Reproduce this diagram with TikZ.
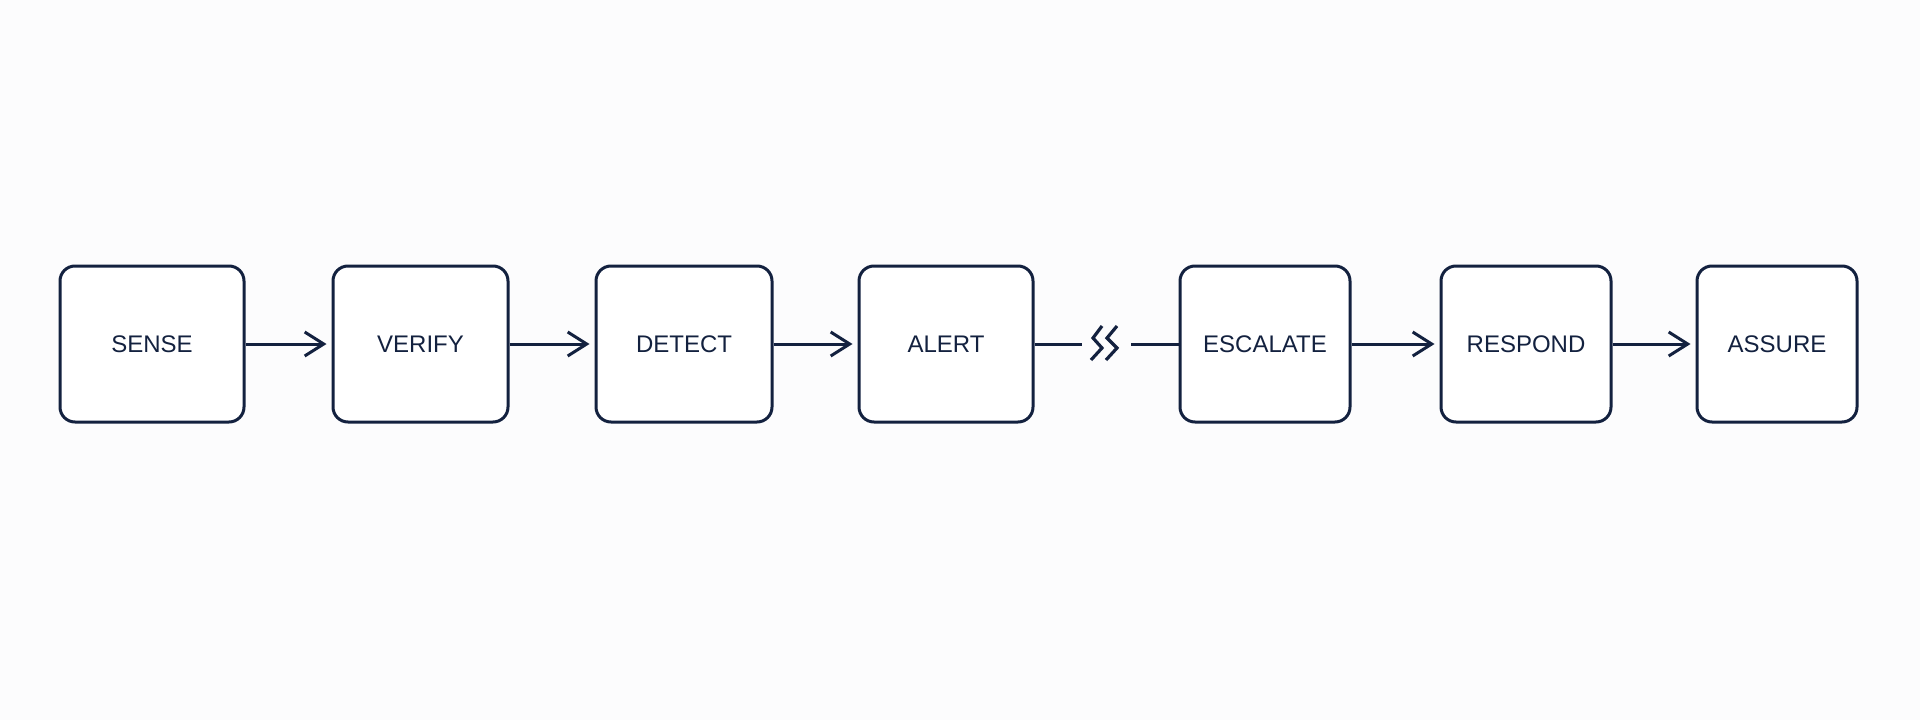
\documentclass[tikz,border=0pt]{standalone}
\usepackage{fontspec}
\setmainfont{Liberation Sans}
\usetikzlibrary{arrows.meta}
\definecolor{ink}{HTML}{13213F}
\definecolor{bg}{HTML}{FCFCFD}
\tikzset{
  stage/.style={draw=ink, line width=3pt, rounded corners=15pt, fill=white,
    minimum height=156pt, inner sep=0pt, text=ink,
    font=\fontsize{24pt}{28pt}\selectfont},
  flow/.style={draw=ink, line width=3pt, shorten >=5pt,
    -{Straight Barb[length=19pt,width=24pt,line width=3pt]}},
  plain/.style={draw=ink, line width=3pt},
  zig/.style={draw=ink, line width=3.2pt, line cap=butt, line join=miter}
}
\begin{document}
\begin{tikzpicture}[x=1pt,y=-1pt]
\fill[bg] (0,0) rectangle (1920,720);
\useasboundingbox (0,0) rectangle (1920,720);
\node[stage, minimum width=184pt] (sense) at (152,344) {SENSE};
\node[stage, minimum width=175pt] (verify) at (420.5,344) {VERIFY};
\node[stage, minimum width=176pt] (detect) at (684,344) {DETECT};
\node[stage, minimum width=174pt] (alert) at (946,344) {ALERT};
\node[stage, minimum width=170pt] (escalate) at (1265,344) {ESCALATE};
\node[stage, minimum width=170pt] (respond) at (1526,344) {RESPOND};
\node[stage, minimum width=160pt] (assure) at (1777,344) {ASSURE};
\coordinate (bl) at (1082,344);
\coordinate (br) at (1131,344);
\draw[flow] (sense) -- (verify);
\draw[flow] (verify) -- (detect);
\draw[flow] (detect) -- (alert);
\draw[plain] (alert) -- (bl);
\draw[plain] (br) -- (escalate);
\draw[flow] (escalate) -- (respond);
\draw[flow] (respond) -- (assure);
\draw[zig] (1102,326) -- (1093,338) -- (1102,348) -- (1091,360);
\draw[zig] (1117,326) -- (1107,338) -- (1117,348) -- (1106,360);
\end{tikzpicture}
\end{document}
